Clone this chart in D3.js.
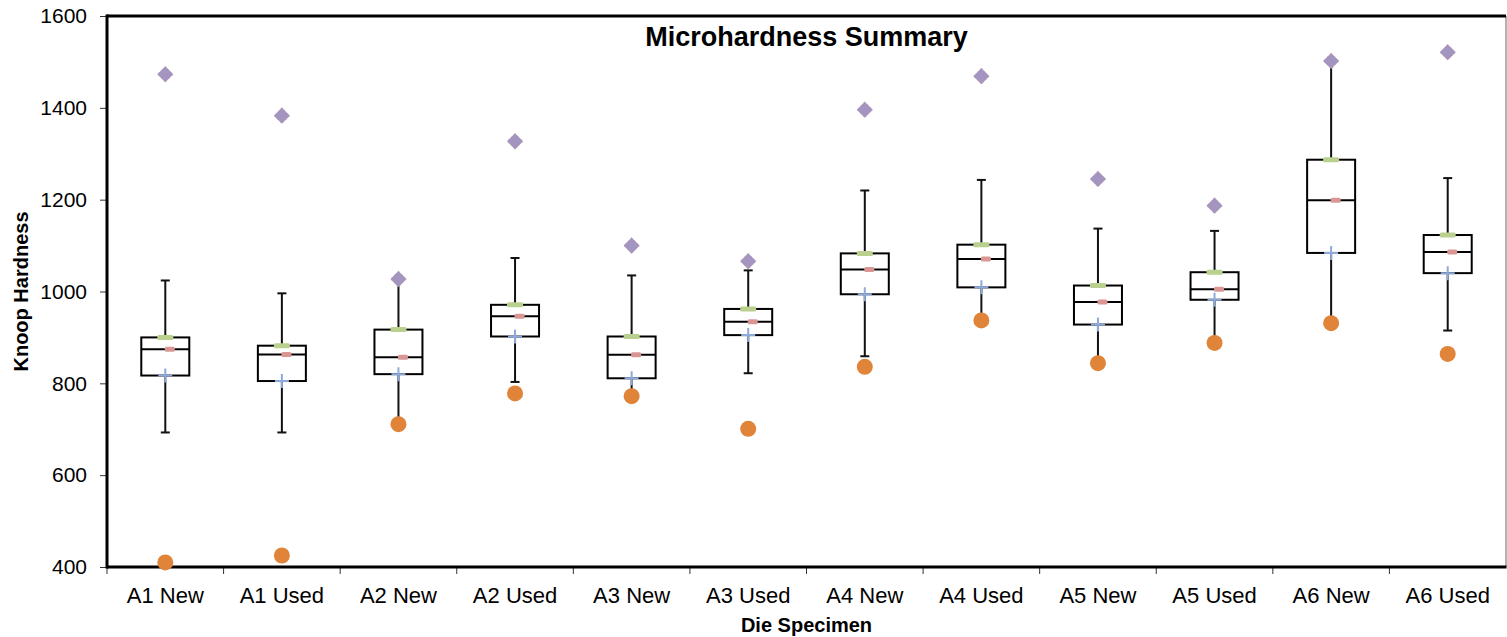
<!DOCTYPE html>
<html>
<head>
<meta charset="utf-8">
<script src="https://cdn.jsdelivr.net/npm/d3@7"></script>
<style>
  body { margin: 0; background: #fff; }
  text { font-family: "Liberation Sans", Arial, sans-serif; }
</style>
</head>
<body>
<div id="chart"></div>
<script>
width = 1507;
height = 637;

margin = {
    top: 16,
    right: 1,
    bottom: 70,
    left: 107
};

//////// Data ////////
const categories = ["A1 New", "A1 Used", "A2 New", "A2 Used", "A3 New", "A3 Used",
                    "A4 New", "A4 Used", "A5 New", "A5 Used", "A6 New", "A6 Used"];
const maxValues   = [1473, 1383, 1027, 1327, 1100, 1066, 1396, 1469, 1245, 1187, 1502, 1521];
const minValues   = [410, 425, 711, 778, 772, 701, 836, 937, 844, 888, 931, 864];
const q3Values    = [900, 882, 917, 971, 902, 962, 1083, 1102, 1013, 1042, 1287, 1123];
const medianValues = [874, 863, 857, 946, 862, 934, 1048, 1071, 977, 1005, 1199, 1086];
const q1Values    = [817, 805, 820, 902, 811, 905, 994, 1009, 928, 982, 1084, 1040];
const whiskerHigh = [1024, 996, 1027, 1073, 1035, 1046, 1220, 1243, 1137, 1132, 1502, 1247];
const whiskerLow  = [693, 693, 711, 803, 772, 822, 859, 937, 844, 888, 931, 915];
const yTicks = [400, 600, 800, 1000, 1200, 1400, 1600];

const data = categories.map((c, i) => ({
    cat: c,
    max: maxValues[i],
    min: minValues[i],
    q3: q3Values[i],
    med: medianValues[i],
    q1: q1Values[i],
    hi: whiskerHigh[i],
    lo: whiskerLow[i]
}));

//////// Scales ////////
const xScale = d3.scaleBand()
    .domain(categories)
    .range([margin.left, width - margin.right])
    .padding(0);

const yScale = d3.scaleLinear()
    .domain([400, 1600])
    .range([height - margin.bottom, margin.top]);

const cx = d => xScale(d.cat) + xScale.bandwidth() / 2;

const svg = d3.select('#chart')
    .append('svg')
    .attr('width', width)
    .attr('height', height);

//////// Axes ////////
const yAxis = d3.axisLeft(yScale)
    .tickValues(yTicks)
    .tickSize(7)
    .tickPadding(13)
    .tickFormat(d3.format('d'));

svg.append('g')
    .attr('transform', `translate(${margin.left},0)`)
    .call(yAxis)
    .call(g => g.select('.domain').remove())
    .call(g => g.selectAll('.tick line').attr('stroke', '#333'))
    .call(g => g.selectAll('text').attr('font-size', 21).attr('fill', '#000')
        .attr('font-family', '"Liberation Sans", Arial, sans-serif'));

const xAxis = d3.axisBottom(xScale)
    .tickSize(0)
    .tickPadding(20);

svg.append('g')
    .attr('transform', `translate(0,${height - margin.bottom})`)
    .call(xAxis)
    .call(g => g.select('.domain').remove())
    .call(g => g.selectAll('text').attr('font-size', 22).attr('fill', '#000')
        .attr('font-family', '"Liberation Sans", Arial, sans-serif'));

// tick marks sit on the band boundaries
svg.append('g')
    .selectAll('line')
    .data(categories)
    .join('line')
    .attr('x1', d => xScale(d))
    .attr('x2', d => xScale(d))
    .attr('y1', height - margin.bottom)
    .attr('y2', height - margin.bottom + 7)
    .attr('stroke', '#333')
    .attr('stroke-width', 1);

// plot frame
const x0 = margin.left, x1 = width - margin.right;
const y0 = margin.top, y1 = height - margin.bottom;
svg.append('line').attr('x1', x1).attr('x2', x1).attr('y1', y0).attr('y2', y1)
    .attr('stroke', '#666').attr('stroke-width', 1);
svg.append('line').attr('x1', x0).attr('x2', x1).attr('y1', y0).attr('y2', y0)
    .attr('stroke', '#000').attr('stroke-width', 3);
svg.append('line').attr('x1', x0).attr('x2', x0).attr('y1', y0 - 1.5).attr('y2', y1 + 1.5)
    .attr('stroke', '#000').attr('stroke-width', 3);
svg.append('line').attr('x1', x0).attr('x2', x1 + 0.5).attr('y1', y1).attr('y2', y1)
    .attr('stroke', '#000').attr('stroke-width', 3);

//////// Boxes ////////
const boxW = 48;
const capW = 9;

const g = svg.append('g').selectAll('g.box')
    .data(data)
    .join('g')
    .attr('class', 'box');

// whiskers
g.append('line')
    .attr('x1', cx).attr('x2', cx)
    .attr('y1', d => yScale(d.hi))
    .attr('y2', d => yScale(d.lo))
    .attr('stroke', '#111')
    .attr('stroke-width', 2);

g.append('line')
    .attr('x1', d => cx(d) - capW / 2).attr('x2', d => cx(d) + capW / 2)
    .attr('y1', d => yScale(d.hi)).attr('y2', d => yScale(d.hi))
    .attr('stroke', '#111').attr('stroke-width', 2);

g.append('line')
    .attr('x1', d => cx(d) - capW / 2).attr('x2', d => cx(d) + capW / 2)
    .attr('y1', d => yScale(d.lo)).attr('y2', d => yScale(d.lo))
    .attr('stroke', '#111').attr('stroke-width', 2);

// box
g.append('rect')
    .attr('x', d => cx(d) - boxW / 2)
    .attr('width', boxW)
    .attr('y', d => yScale(d.q3))
    .attr('height', d => yScale(d.q1) - yScale(d.q3))
    .attr('fill', '#fff')
    .attr('stroke', '#000')
    .attr('stroke-width', 2);

// median line
g.append('line')
    .attr('x1', d => cx(d) - boxW / 2).attr('x2', d => cx(d) + boxW / 2)
    .attr('y1', d => yScale(d.med)).attr('y2', d => yScale(d.med))
    .attr('stroke', '#000').attr('stroke-width', 2);

//////// Markers ////////
// Q3 marker (green dash)
g.append('rect')
    .attr('x', d => cx(d) - 8)
    .attr('y', d => yScale(d.q3) - 2.5)
    .attr('width', 16).attr('height', 5).attr('rx', 1.5)
    .attr('fill', '#b9d08f');

// median marker (pink dash)
g.append('rect')
    .attr('x', d => cx(d) - 0.5)
    .attr('y', d => yScale(d.med) - 2.5)
    .attr('width', 10).attr('height', 5).attr('rx', 1.5)
    .attr('fill', '#d99694');

// Q1 marker (blue plus)
g.append('path')
    .attr('d', d => {
        const px = cx(d), py = yScale(d.q1);
        return `M${px - 7},${py}H${px + 7}M${px},${py - 7}V${py + 7}`;
    })
    .attr('stroke', '#8eaadb')
    .attr('stroke-width', 2);

// max marker (purple diamond)
g.append('path')
    .attr('d', d3.symbol().type(d3.symbolDiamond2).size(165))
    .attr('transform', d => `translate(${cx(d)},${yScale(d.max)})`)
    .attr('fill', '#a395c0')
    .attr('stroke', '#e08080')
    .attr('stroke-width', 0.6)
    .attr('stroke-dasharray', '1,3');

// min marker (orange circle)
g.append('circle')
    .attr('cx', cx)
    .attr('cy', d => yScale(d.min))
    .attr('r', 8)
    .attr('fill', '#df8438');

//////// Titles ////////
svg.append('text')
    .attr('x', (x0 + x1) / 2)
    .attr('y', 46)
    .attr('text-anchor', 'middle')
    .attr('font-size', 27)
    .attr('font-weight', 'bold')
    .text('Microhardness Summary');

svg.append('text')
    .attr('x', (x0 + x1) / 2)
    .attr('y', 632)
    .attr('text-anchor', 'middle')
    .attr('font-size', 20)
    .attr('font-weight', 'bold')
    .text('Die Specimen');

svg.append('text')
    .attr('transform', `translate(28,${(y0 + y1) / 2}) rotate(-90)`)
    .attr('text-anchor', 'middle')
    .attr('font-size', 20)
    .attr('font-weight', 'bold')
    .text('Knoop Hardness');
</script>
</body>
</html>
